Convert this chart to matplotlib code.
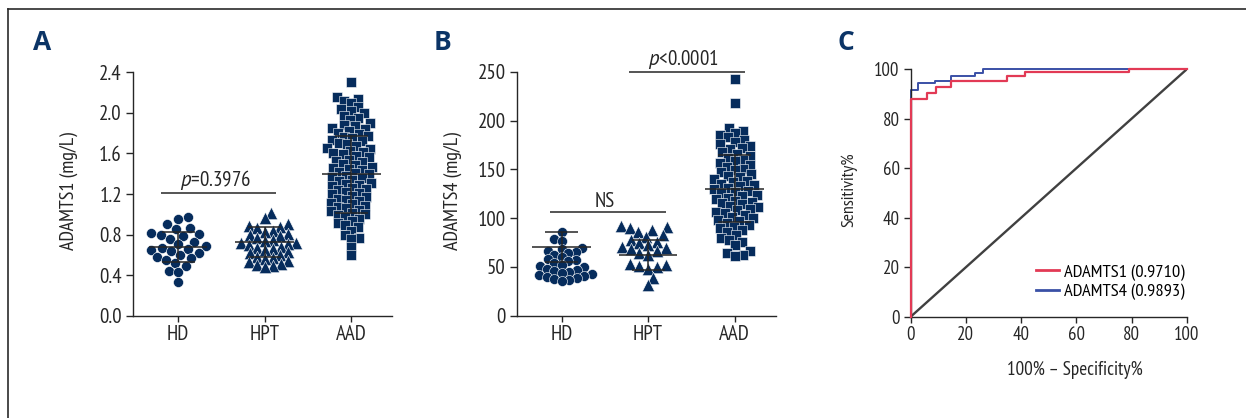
import numpy as np
import matplotlib
matplotlib.use("Agg")
import matplotlib.pyplot as plt
from matplotlib.lines import Line2D
from matplotlib.ticker import FormatStrFormatter

plt.rcParams['font.family'] = ['PT Sans Narrow', 'DejaVu Sans']
plt.rcParams['mathtext.fontset'] = 'custom'
plt.rcParams['mathtext.rm'] = 'PT Sans Narrow'
plt.rcParams['mathtext.it'] = 'PT Sans:italic'

# ---- data ----
groups = ["HD", "HPT", "AAD"]

adamts1_hd = [0.97, 0.95, 0.90, 0.86, 0.85, 0.82, 0.81, 0.80, 0.79, 0.76, 0.73, 0.71,
              0.69, 0.67, 0.66, 0.65, 0.64, 0.62, 0.60, 0.58, 0.57, 0.55, 0.52, 0.49,
              0.44, 0.43, 0.33]
adamts1_hpt = [1.01, 0.96, 0.90, 0.88, 0.87, 0.86, 0.84, 0.83, 0.81, 0.80, 0.79, 0.77,
               0.75, 0.74, 0.72, 0.72, 0.71, 0.70, 0.68, 0.67, 0.66, 0.65, 0.63, 0.62,
               0.60, 0.58, 0.57, 0.56, 0.54, 0.53, 0.51, 0.50, 0.49, 0.48]
adamts1_aad = [2.30, 2.16, 2.14, 2.12, 2.10, 2.06, 2.04, 2.02, 2.00, 1.97, 1.95, 1.93,
               1.90, 1.88, 1.87, 1.85, 1.84, 1.82, 1.80, 1.79, 1.77, 1.76, 1.75, 1.73,
               1.72, 1.70, 1.69, 1.67, 1.65, 1.64, 1.62, 1.61, 1.60, 1.59, 1.57, 1.56,
               1.54, 1.53, 1.52, 1.50, 1.49, 1.47, 1.46, 1.45, 1.44, 1.42, 1.41, 1.40,
               1.38, 1.37, 1.36, 1.34, 1.33, 1.31, 1.30, 1.29, 1.28, 1.26, 1.25, 1.24,
               1.22, 1.21, 1.20, 1.18, 1.17, 1.15, 1.14, 1.13, 1.11, 1.10, 1.08, 1.07,
               1.06, 1.04, 1.03, 1.01, 1.00, 0.99, 0.97, 0.95, 0.93, 0.91, 0.89, 0.87,
               0.84, 0.80, 0.77, 0.76, 0.68, 0.60]
adamts1_mean = [0.675, 0.724, 1.394]
adamts1_sd = [0.147, 0.147, 0.381]

adamts4_hd = [86, 79, 77, 69, 68, 66, 65, 64, 62, 60, 58, 57, 56, 54, 52, 51, 50,
              48, 47, 46, 45, 44, 43, 42, 41, 40, 39, 38, 37, 36]
adamts4_hpt = [92, 91, 90, 88, 86, 83, 81, 78, 76, 74, 72, 70, 69, 68, 66, 64, 62,
               53, 52, 51, 50, 48, 39, 31]
adamts4_aad = [243, 218, 192, 189, 187, 185, 183, 180, 178, 176, 174, 172, 171, 168,
               166, 164, 162, 160, 158, 156, 154, 152, 150, 149, 147, 145, 143, 142,
               140, 138, 137, 135, 134, 133, 131, 130, 128, 127, 126, 124, 123, 121,
               120, 118, 117, 115, 114, 112, 111, 109, 108, 106, 105, 103, 101, 100,
               98, 97, 95, 93, 91, 90, 88, 86, 83, 80, 78, 76, 72, 66, 64, 62, 61]
adamts4_mean = [70.6, 62.1, 130.3]
adamts4_sd = [15.5, 15.2, 34.0]

roc1_fpr = [0, 0, 5.8, 9.1, 14.5, 35.0, 41.4, 79.0, 100]
roc1_tpr = [0, 88.0, 90.3, 93.0, 95.4, 97.3, 98.8, 100, 100]
roc4_fpr = [0, 0, 2.8, 8.8, 14.5, 23.3, 26.3, 100]
roc4_tpr = [0, 91.6, 94.3, 95.4, 97.4, 98.4, 100, 100]
roc_labels = ["ADAMTS1 (0.9710)", "ADAMTS4 (0.9893)"]

NAVY = "#062c5c"
DARK = "#262626"
W, H = 1246, 418

fig = plt.figure(figsize=(W / 100, H / 100), dpi=100)


def px_axes(l, t, r, b):
    return fig.add_axes([l / W, 1 - b / H, (r - l) / W, (b - t) / H])


def swarm_x(ax, xc, values, dist, step=0.5):
    # greedy beeswarm in pixel space; dist < marker size lets points overlap a bit
    vals = np.asarray(values, float)
    pts = ax.transData.transform(np.column_stack([np.full(len(vals), xc), vals]))
    x0, ys = pts[0, 0], pts[:, 1]
    px, py = [], []
    out = np.empty(len(vals))
    for n, i in enumerate(np.argsort(ys)):
        y = ys[i]
        k = 0
        while True:
            cands = [0.0] if k == 0 else ([k * step, -k * step] if n % 2 else [-k * step, k * step])
            hit = None
            for c in cands:
                if all((c - a) ** 2 + (y - b) ** 2 >= dist ** 2 for a, b in zip(px, py)):
                    hit = c
                    break
            if hit is not None:
                break
            k += 1
        px.append(hit)
        py.append(y)
        out[i] = hit
    xy = ax.transData.inverted().transform(np.column_stack([x0 + out, ys]))
    return xy[:, 0]


def style_axes(ax, fs):
    for s in ["top", "right"]:
        ax.spines[s].set_visible(False)
    for s in ["left", "bottom"]:
        ax.spines[s].set_linewidth(1.0)
        ax.spines[s].set_color(DARK)
    ax.tick_params(axis="y", length=5, width=1.0, pad=3, labelsize=fs, colors=DARK)
    ax.tick_params(axis="x", length=4, width=1.0, pad=3, labelsize=fs, colors=DARK)


def dot_plot(ax, data, means, sds, dists):
    markers = ["o", "^", "s"]
    sizes = [52, 80, 48]
    for i, vals in enumerate(data):
        x = swarm_x(ax, i, vals, dists[i])
        ax.scatter(x, vals, marker=markers[i], s=sizes[i], color=NAVY,
                   edgecolors="white", linewidths=0.4, zorder=2, clip_on=False)
        mu, sd = means[i], sds[i]
        ax.hlines(mu, i - 0.34, i + 0.34, color=DARK, lw=1.1, zorder=3)
        ax.hlines([mu - sd, mu + sd], i - 0.19, i + 0.19, color=DARK, lw=1.1, zorder=3)
        ax.vlines(i, mu - sd, mu + sd, color=DARK, lw=1.1, zorder=3)
    ax.set_xticks(range(len(groups)))
    ax.set_xticklabels(groups)


# ---- panel A ----
axA = px_axes(133, 72.3, 392, 315.7)
axA.set_xlim(-0.52, 2.47)
axA.set_ylim(0, 2.4)
dot_plot(axA, [adamts1_hd, adamts1_hpt, adamts1_aad], adamts1_mean, adamts1_sd,
         [9.5, 7.8, 7.6])
axA.set_yticks(np.arange(0, 2.41, 0.4))
axA.yaxis.set_major_formatter(FormatStrFormatter("%.1f"))
style_axes(axA, 15)
axA.hlines(1.213, -0.2, 1.13, color=DARK, lw=1.1)
axA.text(0.43, 1.222, "$p$=0.3976", ha="center", va="bottom", fontsize=15, color=DARK)

# ---- panel B ----
axB = px_axes(516.7, 71.7, 776, 315.7)
axB.set_xlim(-0.52, 2.48)
axB.set_ylim(0, 250)
dot_plot(axB, [adamts4_hd, adamts4_hpt, adamts4_aad], adamts4_mean, adamts4_sd,
         [7.5, 9.0, 8.0])
axB.set_yticks(range(0, 251, 50))
style_axes(axB, 15)
axB.hlines(106.4, -0.135, 1.205, color=DARK, lw=1.1)
axB.text(0.5, 107.5, "NS", ha="center", va="bottom", fontsize=15, color=DARK)
axB.hlines(250, 0.78, 2.12, color=DARK, lw=1.1, clip_on=False)
axB.text(1.41, 251, "$p$<0.0001", ha="center", va="bottom", fontsize=15, color=DARK)

# ---- panel C ----
axC = px_axes(910.7, 69.3, 1186.7, 316.7)
axC.plot([0, 100], [0, 100], color="#404040", lw=1.7, zorder=1)
axC.plot(roc1_fpr, roc1_tpr, drawstyle="steps-post", color="#e23a55", lw=1.6,
         label=roc_labels[0], zorder=3, clip_on=False)
axC.plot(roc4_fpr, roc4_tpr, drawstyle="steps-post", color="#3a50a6", lw=1.4,
         label=roc_labels[1], zorder=2, clip_on=False)
axC.set_xlim(0, 100)
axC.set_ylim(0, 100)
axC.set_xticks(range(0, 101, 20))
axC.set_yticks(range(0, 101, 20))
style_axes(axC, 13.5)
leg = axC.legend(loc="lower left", bbox_to_anchor=(0.42, 0.03), frameon=False, fontsize=13.3,
                 handlelength=1.25, handletextpad=0.25, labelspacing=0.12, borderpad=0)
for h in leg.get_lines():
    h.set_linewidth(2.0)

# ---- labels ----
def ftext(x, y, s, **kw):
    fig.text(x / W, 1 - y / H, s, **kw)

ftext(68.5, 191, "ADAMTS1 (mg/L)", rotation=90, ha="center", va="center", fontsize=14.5, color=DARK)
ftext(452.5, 191, "ADAMTS4 (mg/L)", rotation=90, ha="center", va="center", fontsize=14.5, color=DARK)
ftext(849, 190, "Sensitivity%", rotation=90, ha="center", va="center", fontsize=12.8, color=DARK)
ftext(1075, 370, "100% \u2013 Specificity%", ha="center", va="center", fontsize=13.8, color=DARK)

for letter, x in [("A", 42.5), ("B", 443), ("C", 845.5)]:
    ftext(x, 43, letter, ha="center", va="center", fontsize=19, fontweight="bold",
          color="#0b3466", family=["Open Sans", "DejaVu Sans"])

# outer frame (left and top edges only)
fig.add_artist(Line2D([8 / W, 8 / W], [0, 1 - 9 / H], transform=fig.transFigure,
                      color="#2a2a2a", lw=1.2))
fig.add_artist(Line2D([8 / W, 1], [1 - 9 / H, 1 - 9 / H], transform=fig.transFigure,
                      color="#2a2a2a", lw=1.2))

fig.savefig("out.png", dpi=100)
